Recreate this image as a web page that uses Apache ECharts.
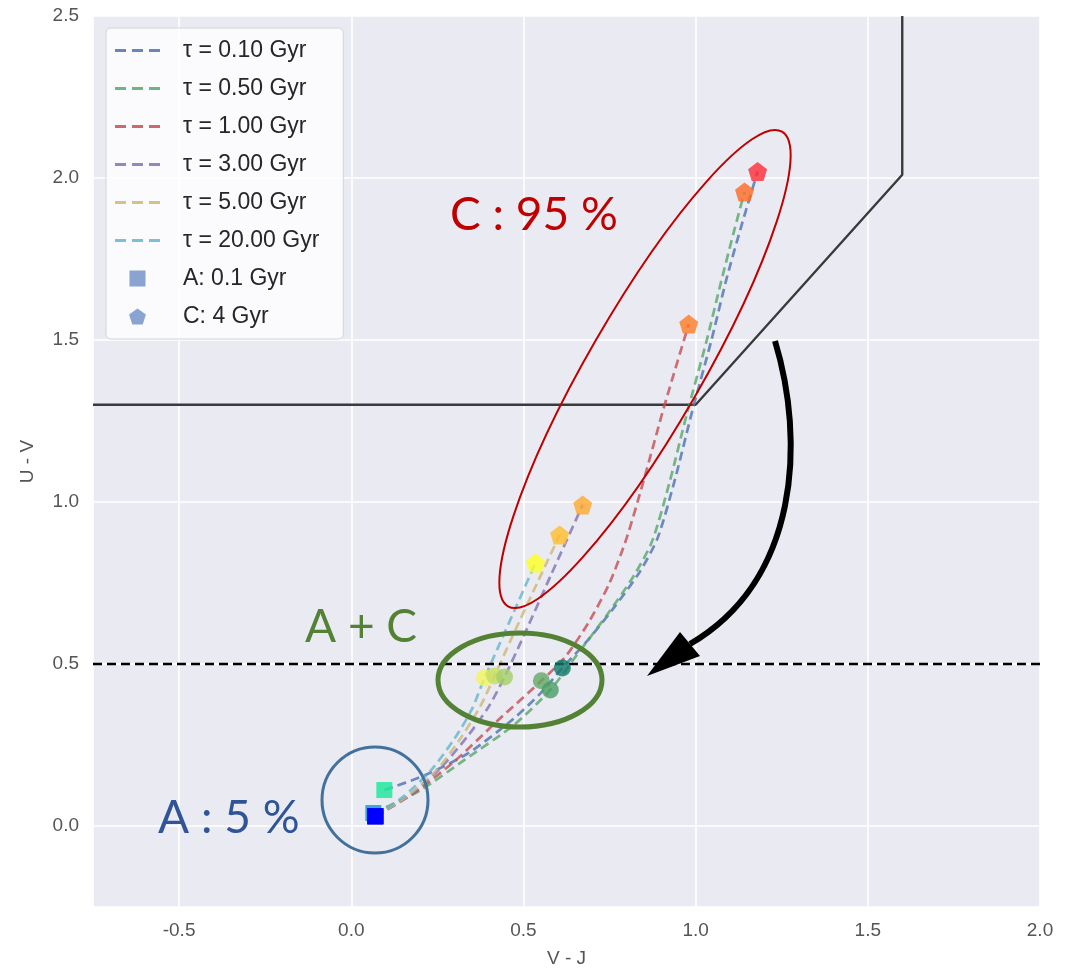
<!DOCTYPE html>
<html>
<head>
<meta charset="utf-8">
<title>UVJ colour tracks</title>
<script src="https://cdn.jsdelivr.net/npm/echarts@6.0.0/dist/echarts.min.js"></script>
<style>
  html, body { margin: 0; padding: 0; background: #ffffff; }
  #main { width: 1074px; height: 968px; }
</style>
</head>
<body>
<div id="main"></div>
<script>
// ---- data: [V - J, U - V] ----
const trackNames = ['τ = 0.10 Gyr', 'τ = 0.50 Gyr', 'τ = 1.00 Gyr', 'τ = 3.00 Gyr', 'τ = 5.00 Gyr', 'τ = 20.00 Gyr'];
const markerNames = ['A: 0.1 Gyr', 'C: 4 Gyr'];

const track010 = [[0.096,0.111],[0.21,0.155],[0.34,0.225],[0.47,0.33],[0.55,0.41],[0.613,0.488],[0.68,0.565],[0.76,0.67],[0.838,0.785],[0.89,0.89],[0.94,1.07],[0.99,1.28],[1.046,1.50],[1.09,1.69],[1.135,1.86],[1.18,2.02]];
const track050 = [[0.064,0.040],[0.2,0.11],[0.33,0.205],[0.47,0.31],[0.578,0.42],[0.66,0.535],[0.745,0.655],[0.822,0.775],[0.874,0.88],[0.924,1.06],[0.974,1.27],[1.03,1.49],[1.074,1.68],[1.11,1.83],[1.142,1.957]];
const track100 = [[0.07,0.03],[0.18,0.10],[0.30,0.20],[0.43,0.33],[0.552,0.448],[0.62,0.52],[0.69,0.63],[0.75,0.75],[0.80,0.89],[0.85,1.07],[0.91,1.30],[0.98,1.549]];
const track300 = [[0.07,0.03],[0.17,0.095],[0.26,0.18],[0.34,0.28],[0.40,0.37],[0.445,0.46],[0.50,0.585],[0.58,0.775],[0.672,0.991]];
const track500 = [[0.07,0.03],[0.16,0.09],[0.25,0.175],[0.32,0.275],[0.375,0.37],[0.416,0.463],[0.47,0.59],[0.54,0.75],[0.605,0.898]];
const track2000 = [[0.07,0.03],[0.15,0.09],[0.23,0.17],[0.30,0.27],[0.35,0.36],[0.387,0.457],[0.43,0.56],[0.48,0.68],[0.535,0.812]];

// population A (0.1 Gyr), intermediate mix, population C (4 Gyr)
const pointsA = [[0.064,0.040],[0.07,0.03],[0.07,0.03],[0.07,0.03],[0.07,0.03],[0.096,0.111]];
const pointsMid = [[0.387,0.457],[0.416,0.463],[0.445,0.46],[0.552,0.448],[0.578,0.42],[0.613,0.488]];
const pointsC = [[0.535,0.812],[0.605,0.898],[0.672,0.991],[0.98,1.549],[1.142,1.957],[1.18,2.02]];

// quiescent selection boundary and the U - V = 0.5 cut
const boundary = [[-0.75,1.3],[1.0,1.3],[1.6,2.01],[1.6,2.5]];
const cutLine = [[-0.75,0.5],[2.0,0.5]];

// ---- styles ----
const trackColors = ['#4C72B0', '#55A868', '#C44E52', '#8172B2', '#CCB974', '#64B5CD'];
const colorsA = ['#1a9ad6', '#0010f5', '#0008f8', '#0004fa', '#0000ff', '#22e89c'];
const colorsMid = ['#f2f55c', '#c6df62', '#a4cf66', '#62a866', '#4a9e64', '#0f7a68'];
const colorsC = ['#ffff22', '#ffbd28', '#ffa82a', '#ff7a26', '#ff6a22', '#ff2a36'];
const pentagon = 'path://M0,-1 L0.951,-0.309 L0.588,0.809 L-0.588,0.809 L-0.951,-0.309 Z';
const squareIcon = 'path://M0,0 h1 v1 h-1 Z';
const dashIcon = 'path://M0,0 h11 v3 h-11 Z M17,0 h11 v3 h-11 Z M34,0 h11 v3 h-11 Z';

const tracks = [track010, track050, track100, track300, track500, track2000];

const chart = echarts.init(document.getElementById('main'), null, { renderer: 'canvas' });

const axisFont = { color: '#555555', fontSize: 19, fontFamily: 'Liberation Sans, Arial, sans-serif' };

const series = [];
series.push({
  type: 'line', name: 'boundary', data: boundary, symbol: 'none', silent: true, z: 1,
  lineStyle: { color: '#3a3a3a', width: 2.4 }
});
tracks.forEach((t, i) => {
  series.push({
    type: 'line', name: trackNames[i], data: t, symbol: 'none', smooth: 0.25, z: 2,
    itemStyle: { color: trackColors[i], opacity: 0.85 },
    lineStyle: { color: trackColors[i], width: 2.7, type: [9, 5], opacity: 0.8 }
  });
});
series.push({
  type: 'line', name: 'cut', data: cutLine, symbol: 'none', silent: true, z: 3,
  lineStyle: { color: '#000000', width: 2.6, type: [9, 5] }
});
series.push({
  type: 'scatter', name: markerNames[0], symbol: 'rect', symbolSize: 16, z: 4,
  itemStyle: { color: '#6d8ec4' },
  data: pointsA.map((p, i) => ({ value: p, itemStyle: { color: colorsA[i], opacity: 0.85 } }))
});
series.push({
  type: 'scatter', name: 'mix', symbol: 'circle', symbolSize: 17, z: 4,
  data: pointsMid.map((p, i) => ({ value: p, itemStyle: { color: colorsMid[i], opacity: 0.8 } }))
});
series.push({
  type: 'scatter', name: markerNames[1], symbol: pentagon, symbolSize: 19, z: 4,
  itemStyle: { color: '#6d8ec4' },
  data: pointsC.map((p, i) => ({ value: p, itemStyle: { color: colorsC[i], opacity: 0.8 } }))
});

const annFont = 'Lato, "Open Sans", sans-serif';

const legendData = trackNames.map(n => ({ name: n, icon: dashIcon }))
  .concat([{ name: markerNames[0], icon: squareIcon }, { name: markerNames[1], icon: pentagon }]);

chart.setOption({
  backgroundColor: '#ffffff',
  animation: false,
  grid: {
    left: 93, right: 34, top: 16, bottom: 61,
    show: true, backgroundColor: '#EAEAF2', borderWidth: 0,
    containLabel: false, outerBoundsMode: 'none'
  },
  xAxis: {
    type: 'value', min: -0.75, max: 2.0, minInterval: 0.5, maxInterval: 0.5,
    name: 'V - J', nameLocation: 'middle', nameGap: 42,
    nameTextStyle: axisFont,
    axisLine: { show: false }, axisTick: { show: false },
    axisLabel: Object.assign({ showMinLabel: false, margin: 14, formatter: v => v.toFixed(1) }, axisFont),
    splitLine: { show: true, lineStyle: { color: '#ffffff', width: 1.6 } }
  },
  yAxis: {
    type: 'value', min: -0.25, max: 2.5, minInterval: 0.5, maxInterval: 0.5,
    name: 'U - V', nameLocation: 'middle', nameGap: 56, nameRotate: 90,
    nameTextStyle: axisFont,
    axisLine: { show: false }, axisTick: { show: false },
    axisLabel: Object.assign({ showMinLabel: false, margin: 14, formatter: v => v.toFixed(1) }, axisFont),
    splitLine: { show: true, lineStyle: { color: '#ffffff', width: 1.6 } }
  },
  legend: {
    orient: 'vertical', left: 106, top: 28,
    data: legendData,
    itemWidth: 45, itemHeight: 16, itemGap: 15,
    symbolKeepAspect: true,
    padding: [11, 24, 11, 9],
    backgroundColor: 'rgba(255,255,255,0.82)',
    borderColor: '#d4d4d8', borderWidth: 1, borderRadius: 5,
    selectedMode: false,
    textStyle: { color: '#262626', fontSize: 23, lineHeight: 23, fontFamily: 'Liberation Sans, Arial, sans-serif', padding: [0, 0, 0, 18] }
  },
  series: series,
  graphic: [
    // callout around population C
    { type: 'ellipse', x: 645, y: 369, rotation: Math.PI / 3, z: 100,
      shape: { cx: 0, cy: 0, rx: 274, ry: 57 },
      style: { fill: 'none', stroke: '#C00000', lineWidth: 2 } },
    { type: 'text', x: 450, y: 215, z: 100,
      style: { text: 'C : 95 %', fill: '#C00000', fontSize: 46, fontFamily: annFont, verticalAlign: 'middle' } },
    // callout around the mixed points
    { type: 'ellipse', x: 520, y: 680, z: 100,
      shape: { cx: 0, cy: 0, rx: 82, ry: 47 },
      style: { fill: 'none', stroke: '#548235', lineWidth: 5 } },
    { type: 'text', x: 305, y: 627, z: 100,
      style: { text: 'A + C', fill: '#548235', fontSize: 46, fontFamily: annFont, verticalAlign: 'middle' } },
    // callout around population A
    { type: 'circle', x: 375, y: 800, z: 100,
      shape: { cx: 0, cy: 0, r: 53 },
      style: { fill: 'none', stroke: '#41719C', lineWidth: 3 } },
    { type: 'text', x: 158, y: 818, z: 100,
      style: { text: 'A : 5 %', fill: '#2F5597', fontSize: 46, fontFamily: annFont, verticalAlign: 'middle' } },
    // curved arrow
    { type: 'bezierCurve', z: 100,
      shape: { x1: 775, y1: 341, cpx1: 805, cpy1: 440, cpx2: 800, cpy2: 580, x2: 690, y2: 644 },
      style: { fill: 'none', stroke: '#000000', lineWidth: 6 } },
    { type: 'polygon', z: 100,
      shape: { points: [[647, 676], [680, 632], [700, 656]] },
      style: { fill: '#000000' } }
  ]
});
</script>
</body>
</html>
